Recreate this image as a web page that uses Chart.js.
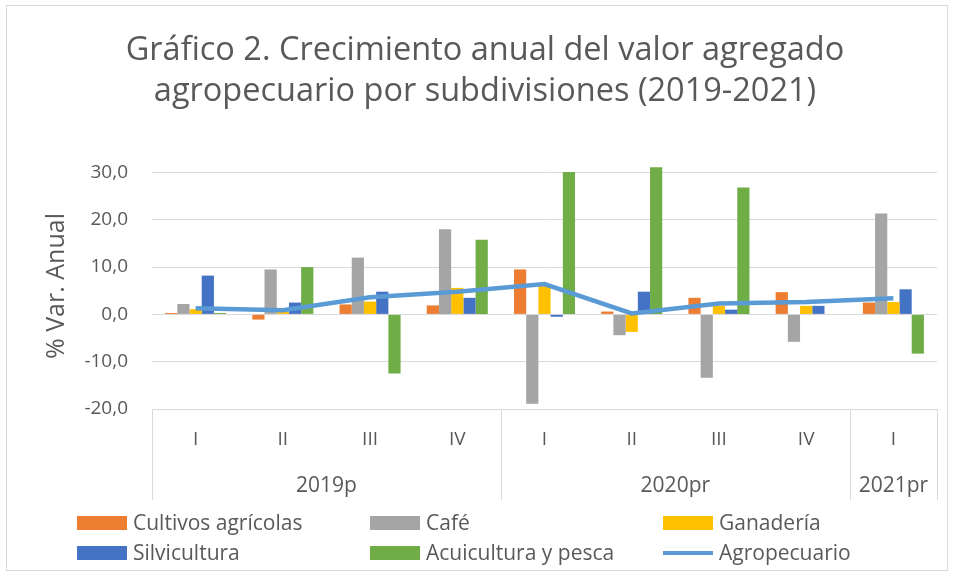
<!DOCTYPE html>
<html>
<head>
<meta charset="utf-8">
<script src="https://cdn.jsdelivr.net/npm/chart.js@4"></script>
<style>
  body { margin: 0; background: #fff; }
  #wrap { position: relative; width: 955px; height: 578px; }
  #frame { position: absolute; left: 6px; top: 5px; width: 940px; height: 564px; border: 1px solid #d9d9d9; }
  #myChart { position: absolute; left: 0; top: 0; }
  .lg { position: absolute; height: 24px; line-height: 24px; font: 21px "Open Sans"; color: #595959; white-space: nowrap; }
  .lg i { display: inline-block; width: 50px; height: 14px; vertical-align: middle; margin-right: 6px; position: relative; top: -1px; }
  .lg i.ln { height: 4px; }
</style>
</head>
<body>
<div id="wrap">
  <div id="frame"></div>
  <canvas id="myChart" width="955" height="578"></canvas>
</div>
<script>
// categories and values
const quarters = ['I', 'II', 'III', 'IV', 'I', 'II', 'III', 'IV', 'I'];
const yearLabels = ['2019p', '2020pr', '2021pr'];
const yearSpans = [4, 4, 1];

const cultivos     = [0.3, -1.1, 2.1, 1.9, 9.5, 0.6, 3.5, 4.7, 2.5];
const cafe         = [2.2, 9.5, 12.0, 18.0, -18.9, -4.4, -13.4, -5.8, 21.3];
const ganaderia    = [1.1, 0.5, 2.7, 5.6, 6.0, -3.7, 1.8, 1.8, 2.6];
const silvicultura = [8.2, 2.5, 4.8, 3.5, -0.5, 4.8, 1.0, 1.8, 5.3];
const acuicultura  = [0.3, 10.0, -12.5, 15.8, 30.1, 31.1, 26.8, 0.0, -8.3];
const agropecuario = [1.3, 0.9, 3.6, 4.8, 6.4, 0.2, 2.3, 2.6, 3.4];

const yTicks = [-20, -10, 0, 10, 20, 30];

const TXT = '#595959';
const GRID = '#d9d9d9';
const FONT = '"Open Sans"';

// box under the plot with the year row
const axisBox = {
  id: 'axisBox',
  afterDraw(chart) {
    const {ctx, chartArea: a, scales: {x}} = chart;
    const top = a.bottom, bottom = top + 91;
    ctx.save();
    ctx.strokeStyle = GRID;
    ctx.lineWidth = 1;
    ctx.beginPath();
    ctx.moveTo(x.left, top + 0.5); ctx.lineTo(x.right, top + 0.5);
    let edges = [x.left];
    let idx = 0;
    yearSpans.forEach(n => {
      idx += n;
      if (idx < quarters.length) {
        edges.push((x.getPixelForValue(idx - 1) + x.getPixelForValue(idx)) / 2);
      } else {
        edges.push(x.right);
      }
    });
    edges.forEach(e => {
      const px = Math.round(e) + 0.5;
      ctx.moveTo(px, top); ctx.lineTo(px, bottom);
    });
    ctx.stroke();
    ctx.fillStyle = TXT;
    ctx.font = '21px ' + FONT;
    ctx.textAlign = 'center';
    ctx.textBaseline = 'middle';
    yearLabels.forEach((lab, i) => {
      ctx.fillText(lab, (edges[i] + edges[i + 1]) / 2, top + 77);
    });
    ctx.restore();
  }
};

const ctx = document.getElementById('myChart');
const chart = new Chart(ctx, {
  type: 'bar',
  data: {
    labels: quarters,
    datasets: [
      { type: 'line', label: 'Agropecuario', data: agropecuario, borderColor: '#5B9BD5', backgroundColor: '#5B9BD5',
        borderWidth: 4.5, pointRadius: 0, tension: 0, order: 0 },
      { label: 'Cultivos agrícolas', data: cultivos, backgroundColor: '#ED7D31', order: 1 },
      { label: 'Café', data: cafe, backgroundColor: '#A5A5A5', order: 1 },
      { label: 'Ganadería', data: ganaderia, backgroundColor: '#FFC000', order: 1 },
      { label: 'Silvicultura', data: silvicultura, backgroundColor: '#4472C4', order: 1 },
      { label: 'Acuicultura y pesca', data: acuicultura, backgroundColor: '#70AD47', order: 1 }
    ]
  },
  options: {
    responsive: false,
    devicePixelRatio: 1,
    animation: false,
    datasets: { bar: { categoryPercentage: 0.7, barPercentage: 1.0 } },
    layout: { padding: { left: 33, right: 18, top: 0, bottom: 78 } },
    plugins: {
      legend: { display: false },
      tooltip: { enabled: false },
      title: {
        display: true,
        text: ['Gráfico 2. Crecimiento anual del valor agregado', 'agropecuario por subdivisiones (2019-2021)'],
        color: TXT,
        font: { family: FONT, size: 32.5, weight: 'normal', lineHeight: 41 / 32.5 },
        padding: { top: 30, bottom: 51 }
      }
    },
    scales: {
      x: {
        grid: { display: false, drawTicks: false },
        border: { display: false },
        ticks: { color: TXT, font: { family: FONT, size: 19 }, padding: 19, maxRotation: 0 },
        afterFit: s => { s.height = 91; }
      },
      y: {
        min: -20,
        max: 32,
        grid: { color: GRID, drawTicks: false },
        border: { display: false },
        ticks: {
          stepSize: 10,
          color: TXT,
          padding: 24,
          font: { family: FONT, size: 19 },
          callback: v => v.toFixed(1).replace('.', ',')
        },
        afterBuildTicks: s => { s.ticks = yTicks.map(v => ({ value: v })); },
        afterFit: s => { s.width = 119; },
        title: {
          display: true,
          text: '% Var. Anual',
          color: TXT,
          font: { family: FONT, size: 25 },
          padding: { top: 9, bottom: 0 }
        }
      }
    }
  },
  plugins: [axisBox]
});

// legend in three columns, two rows, like the original
const legendItems = [
  { label: 'Cultivos agrícolas', color: '#ED7D31', line: false },
  { label: 'Café', color: '#A5A5A5', line: false },
  { label: 'Ganadería', color: '#FFC000', line: false },
  { label: 'Silvicultura', color: '#4472C4', line: false },
  { label: 'Acuicultura y pesca', color: '#70AD47', line: false },
  { label: 'Agropecuario', color: '#5B9BD5', line: true }
];
const colX = [77, 370, 663];
const rowY = [508, 538];
const wrap = document.getElementById('wrap');
legendItems.forEach((it, i) => {
  const d = document.createElement('div');
  d.className = 'lg';
  d.style.left = colX[i % 3] + 'px';
  d.style.top = rowY[Math.floor(i / 3)] + 'px';
  const sw = document.createElement('i');
  if (it.line) sw.className = 'ln';
  sw.style.background = it.color;
  d.appendChild(sw);
  d.appendChild(document.createTextNode(it.label));
  wrap.appendChild(d);
});
</script>
</body>
</html>
